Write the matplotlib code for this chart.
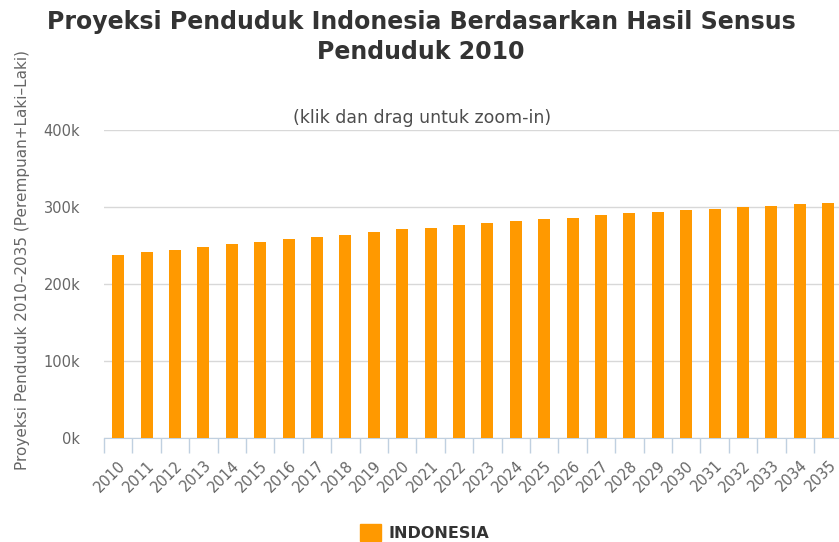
import matplotlib
matplotlib.use("Agg")
import matplotlib.pyplot as plt
from matplotlib.patches import Rectangle

# data (thousands of people)
years = list(range(2010, 2036))
penduduk = [237.4, 241.3, 244.7, 248.6, 252.5, 254.3, 258.3, 261.6, 263.9, 267.8,
            271.3, 273.0, 276.9, 279.1, 282.5, 284.7, 286.0, 290.3, 292.2, 293.9,
            296.1, 297.8, 299.5, 301.7, 303.4, 305.2]
yticks = [0, 100, 200, 300, 400]
ytick_labels = ["0k", "100k", "200k", "300k", "400k"]

W, H = 839, 542
fig = plt.figure(figsize=(W / 100, H / 100), dpi=100)
plt.rcParams['font.family'] = ['DejaVu Sans']

# plot area in pixels: x 104 -> 842 (cropped on the right), y 130 -> 438
left, right, top, bottom = 104, 842.4, 130.0, 438.3
ax = fig.add_axes([left / W, (H - bottom) / H, (right - left) / W, (bottom - top) / H])

x = list(range(len(years)))
ax.bar(x, penduduk, width=0.42, color="#ff9900", zorder=3)

ax.set_xlim(-0.5, len(years) - 0.5)
ax.set_ylim(0, 400)
ax.set_yticks(yticks)
ax.set_yticklabels(ytick_labels, color="#666666", fontsize=10.5)
ax.tick_params(axis="y", length=0, pad=17)
ax.yaxis.grid(True, color="#d8d8d8", linewidth=1)
ax.set_axisbelow(True)

# category boundary ticks, labels at centers
ax.set_xticks([i - 0.5 for i in range(len(years) + 1)])
ax.set_xticklabels([])
ax.tick_params(axis="x", length=11, color="#c0d0e0", width=1)
ax.set_xticks(x, minor=True)
ax.set_xticklabels([str(y) for y in years], minor=True, rotation=45, ha="right",
                   va="top", rotation_mode="anchor", color="#666666", fontsize=10.5)
ax.tick_params(axis="x", which="minor", length=0, pad=14)

for s in ["top", "right", "left"]:
    ax.spines[s].set_visible(False)
ax.spines["bottom"].set_color("#c0d0e0")

fig.text(421 / W, 1 - 22 / H, "Proyeksi Penduduk Indonesia Berdasarkan Hasil Sensus",
         ha="center", va="center", fontsize=17, fontweight="bold", color="#333333")
fig.text(421 / W, 1 - 52 / H, "Penduduk 2010",
         ha="center", va="center", fontsize=17, fontweight="bold", color="#333333")
fig.text(422 / W, 1 - 118 / H, "(klik dan drag untuk zoom-in)",
         ha="center", va="center", fontsize=12.5, color="#4d4d4d")
fig.text(23 / W, 1 - 260 / H, "Proyeksi Penduduk 2010\u20132035 (Perempuan+Laki\u2013Laki)",
         ha="center", va="center", rotation=90, fontsize=11, color="#666666")

# legend
fig.patches.append(Rectangle((360 / W, 1 - 541 / H), 21 / W, 17 / H,
                             transform=fig.transFigure, color="#ff9900"))
fig.text(389 / W, 1 - 533 / H, "INDONESIA", ha="left", va="center",
         fontsize=11.5, fontweight="bold", color="#333333")

fig.savefig("out.png", dpi=100)
